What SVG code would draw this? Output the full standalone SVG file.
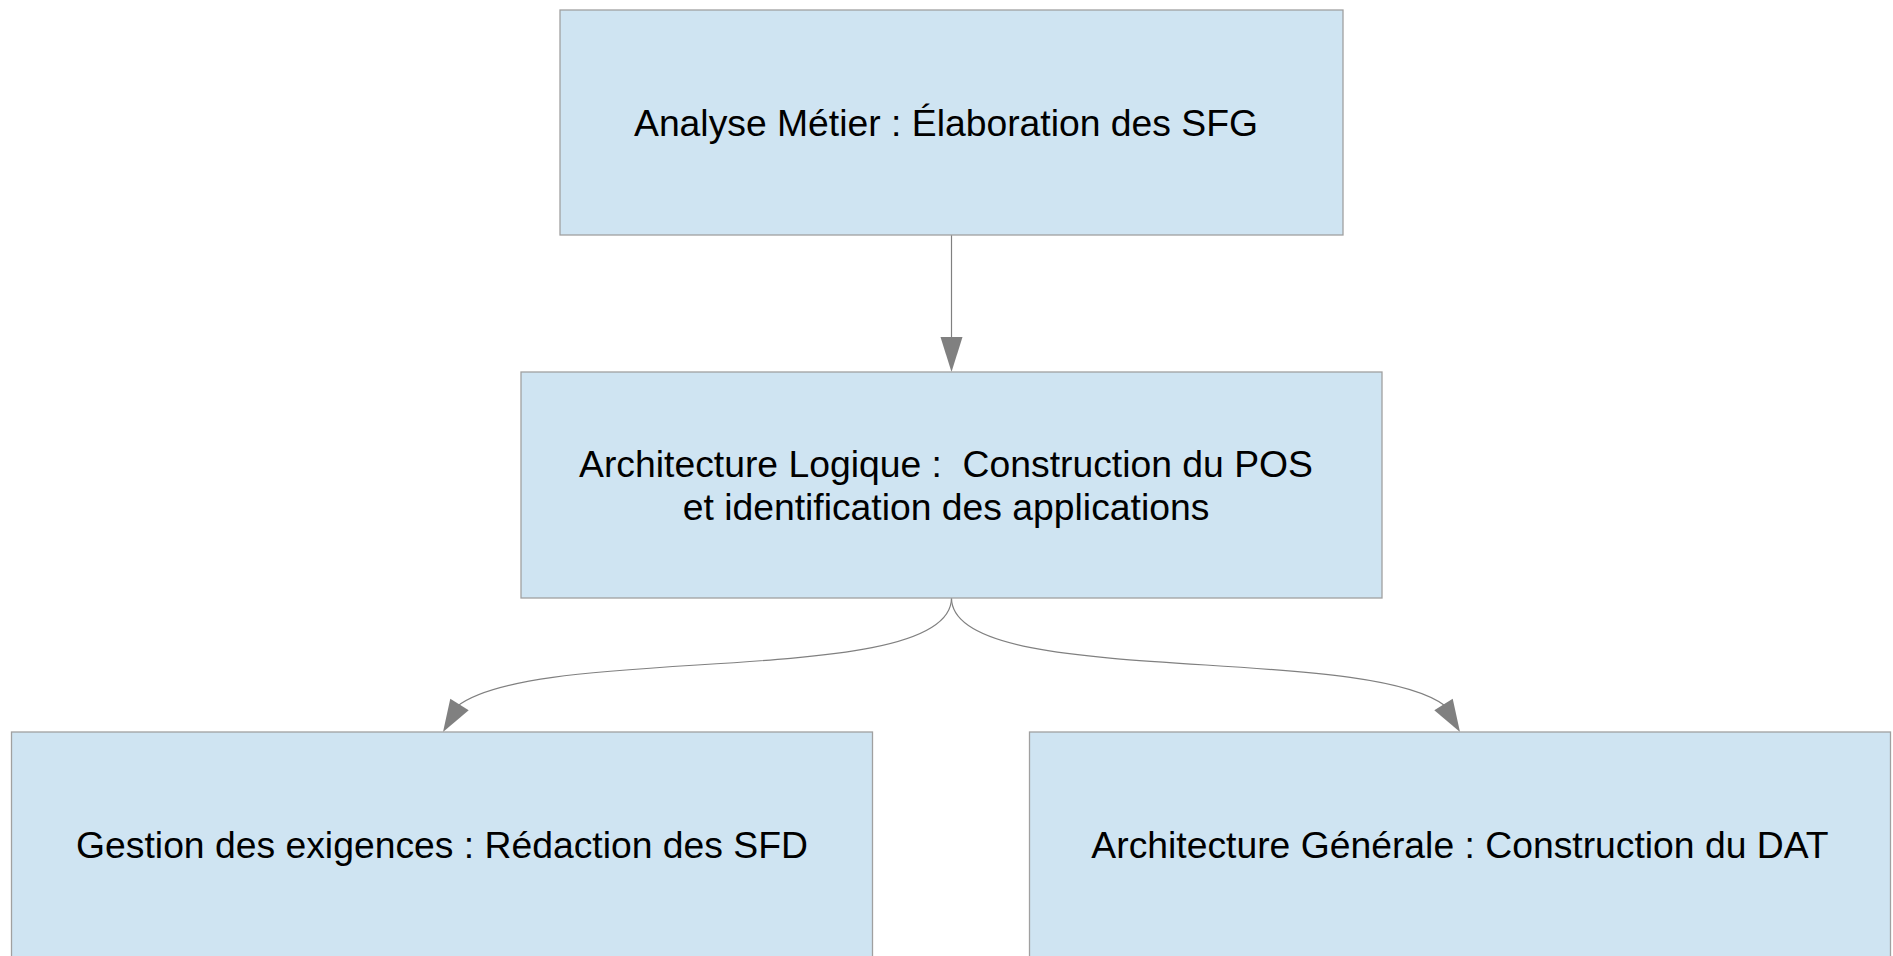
<svg xmlns="http://www.w3.org/2000/svg" width="1893" height="956" viewBox="0 0 1893 956">
  <style>
    .box { fill: #cfe4f2; stroke: #a0a0a0; stroke-width: 1.3; }
    .label { font-family: "Liberation Sans", Arial, sans-serif; font-size: 37.3px; fill: #000; text-anchor: middle; white-space: pre; }
    .edge { fill: none; stroke: #808080; stroke-width: 1.2; }
    .head { fill: #808080; stroke: none; }
  </style>
  <rect width="1893" height="956" fill="#ffffff"/>

  <g id="connectors">
    <!-- Analyse Métier -> Architecture Logique -->
    <line class="edge" x1="951.5" y1="235" x2="951.5" y2="338"/>
    <polygon class="head" points="951.5,372 940.5,337 962.5,337"/>
    <!-- Architecture Logique -> Gestion des exigences -->
    <path class="edge" d="M 951.5 598 C 951.5 689.8, 539.6 642.3, 457.25 706.2"/>
    <polygon class="head" points="443,732 450.3,698.7 468.7,710.3"/>
    <!-- Architecture Logique -> Architecture Générale -->
    <path class="edge" d="M 951.5 598 C 951.5 689.8, 1363.4 642.3, 1445.75 706.2"/>
    <polygon class="head" points="1460,732 1452.7,698.7 1434.3,710.3"/>
  </g>

  <g id="node-analyse-metier">
    <rect class="box" x="560" y="10" width="783" height="225"/>
    <text class="label" x="946" y="135.5">Analyse Métier : Élaboration des SFG</text>
  </g>

  <g id="node-architecture-logique">
    <rect class="box" x="521" y="372" width="861" height="226"/>
    <text class="label" x="946" y="476.5">Architecture Logique :  Construction du POS</text>
    <text class="label" x="946" y="519.5">et identification des applications</text>
  </g>

  <g id="node-gestion-exigences">
    <rect class="box" x="11.5" y="732" width="861" height="226"/>
    <text class="label" x="442" y="858">Gestion des exigences : Rédaction des SFD</text>
  </g>

  <g id="node-architecture-generale">
    <rect class="box" x="1029.5" y="732" width="861" height="226"/>
    <text class="label" x="1460" y="858">Architecture Générale : Construction du DAT</text>
  </g>
</svg>
